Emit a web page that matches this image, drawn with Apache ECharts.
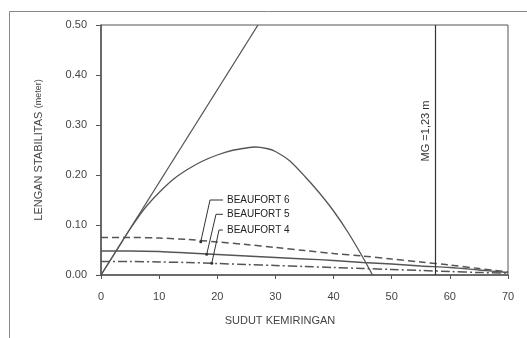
<!DOCTYPE html>
<html>
<head>
<meta charset="utf-8">
<script src="https://cdn.jsdelivr.net/npm/echarts@6/dist/echarts.min.js"></script>
<style>
  html, body { margin: 0; padding: 0; background: #fff; }
  #chart { width: 527px; height: 338px; }
</style>
</head>
<body>
<div id="chart"></div>
<script>
// lengan stabilitas (GZ) kapal
var gzAngles = [0, 2.5, 5, 7.5, 10, 12.5, 15, 17.5, 20, 22.5, 25, 26.5, 28.5, 30, 32.5, 35, 37.5, 40, 42.5, 45, 46.7];
var gzValues = [0, 0.046, 0.092, 0.133, 0.165, 0.192, 0.212, 0.228, 0.240, 0.249, 0.254, 0.256, 0.253, 0.247, 0.228, 0.198, 0.165, 0.128, 0.085, 0.036, 0];

// garis singgung GM
var gmAngles = [0, 27];
var gmValues = [0, 0.50];

// lengan oleng angin
var windAngles = [0, 5, 10, 15, 20, 25, 30, 35, 40, 45, 50, 55, 60, 65, 70];
var beaufort6 = [0.075, 0.075, 0.074, 0.071, 0.066, 0.061, 0.055, 0.049, 0.043, 0.038, 0.032, 0.026, 0.020, 0.013, 0.006];
var beaufort5 = [0.048, 0.048, 0.047, 0.044, 0.041, 0.038, 0.035, 0.032, 0.029, 0.025, 0.022, 0.018, 0.015, 0.010, 0.005];
var beaufort4 = [0.027, 0.027, 0.026, 0.025, 0.023, 0.021, 0.019, 0.017, 0.015, 0.013, 0.011, 0.009, 0.007, 0.005, 0.004];

// garis MG
var mgLineAngle = 57.5;
var mgLabel = 'MG =1,23 m';
var mgLabelY = 0.288;

// keterangan (titik ujung, sudut, ujung label)
var bf6Leader = [[17.16, 0.0666], [18.75, 0.150], [20.98, 0.150]];
var bf5Leader = [[18.18, 0.0414], [19.78, 0.1214], [20.98, 0.1214]];
var bf4Leader = [[19.05, 0.0234], [20.3, 0.090], [20.98, 0.090]];

function pairs(xs, ys) {
	var out = [];
	for (var i = 0; i < xs.length; i++) {
		out.push([xs[i], ys[i]]);
	}
	return out;
}

var lineColor = '#555';
var textColor = '#444';

function leader(name, pts) {
	var data = [];
	for (var i = 0; i < pts.length; i++) {
		data.push({value: pts[i], symbolSize: i === 0 ? 3 : 0});
	}
	return {
		name: name,
		type: 'line',
		data: data,
		symbol: 'circle',
		showSymbol: true,
		itemStyle: {color: '#333'},
		lineStyle: {color: '#333', width: 1},
		silent: true,
		z: 5,
		endLabel: {
			show: true,
			formatter: name,
			color: '#222',
			fontSize: 10,
			fontFamily: 'Liberation Sans',
			distance: 4
		}
	};
}

var myChart = echarts.init(document.getElementById('chart'), null, {renderer: 'canvas'});
var option = {
	animation: false,
	backgroundColor: '#fff',
	textStyle: {fontFamily: 'Liberation Sans'},
	grid: {
		left: 101, top: 25, right: 19, bottom: 63,
		show: true,
		borderColor: '#555',
		borderWidth: 1
	},
	xAxis: {
		type: 'value',
		min: 0, max: 70, interval: 10,
		name: 'SUDUT KEMIRINGAN',
		nameLocation: 'middle',
		nameGap: 40,
		nameTextStyle: {color: textColor, fontSize: 11, padding: [0, 49, 0, 0]},
		axisLine: {lineStyle: {color: '#555', width: 1.5}},
		axisTick: {show: true, length: 4, lineStyle: {color: '#555'}},
		axisLabel: {color: textColor, fontSize: 11, margin: 16},
		splitLine: {show: false}
	},
	yAxis: {
		type: 'value',
		min: 0, max: 0.5, interval: 0.1,
		name: '{a|LENGAN STABILITAS} {b|(meter)}',
		nameLocation: 'middle',
		nameGap: 56,
		nameTextStyle: {
			rich: {
				a: {color: textColor, fontSize: 11},
				b: {color: textColor, fontSize: 9}
			}
		},
		axisLine: {show: true, lineStyle: {color: '#555', width: 1.5}},
		axisTick: {show: true, length: 5, lineStyle: {color: '#555'}},
		axisLabel: {
			color: textColor, fontSize: 11, margin: 14,
			formatter: function(v) { return v.toFixed(2); }
		},
		splitLine: {show: false}
	},
	series: [
		{
			name: 'GM',
			type: 'line',
			data: pairs(gmAngles, gmValues),
			showSymbol: false,
			lineStyle: {color: lineColor, width: 1.3},
			clip: true
		},
		{
			name: 'GZ',
			type: 'line',
			data: pairs(gzAngles, gzValues),
			smooth: 0.2,
			showSymbol: false,
			lineStyle: {color: lineColor, width: 1.3}
		},
		{
			name: 'BEAUFORT 6 curve',
			type: 'line',
			data: pairs(windAngles, beaufort6),
			smooth: 0.3,
			showSymbol: false,
			lineStyle: {color: lineColor, width: 1.5, type: [7, 4]}
		},
		{
			name: 'BEAUFORT 5 curve',
			type: 'line',
			data: pairs(windAngles, beaufort5),
			smooth: 0.3,
			showSymbol: false,
			lineStyle: {color: lineColor, width: 1.3}
		},
		{
			name: 'BEAUFORT 4 curve',
			type: 'line',
			data: pairs(windAngles, beaufort4),
			smooth: 0.3,
			showSymbol: false,
			lineStyle: {color: lineColor, width: 1.5, type: [9, 3, 2, 3]}
		},
		{
			name: 'MG',
			type: 'line',
			data: [],
			markLine: {
				silent: true,
				symbol: 'none',
				label: {show: false},
				lineStyle: {color: '#333', width: 1.2, type: 'solid'},
				data: [{xAxis: mgLineAngle}]
			}
		},
		leader('BEAUFORT 6', bf6Leader),
		leader('BEAUFORT 5', bf5Leader),
		leader('BEAUFORT 4', bf4Leader)
	]
};
myChart.setOption(option);

// bingkai luar dan label MG
var mgPos = myChart.convertToPixel({gridIndex: 0}, [mgLineAngle, mgLabelY]);
myChart.setOption({
	graphic: [
		{
			type: 'rect',
			left: 7, top: 9,
			shape: {width: 540, height: 340},
			style: {fill: 'none', stroke: '#888', lineWidth: 1},
			silent: true
		},
		{
			type: 'text',
			x: mgPos[0] - 9,
			y: mgPos[1],
			rotation: Math.PI / 2,
			style: {
				text: mgLabel,
				fill: '#333',
				fontSize: 11,
				fontFamily: 'Liberation Sans',
				align: 'center',
				verticalAlign: 'middle'
			},
			silent: true
		}
	]
});
</script>
</body>
</html>
